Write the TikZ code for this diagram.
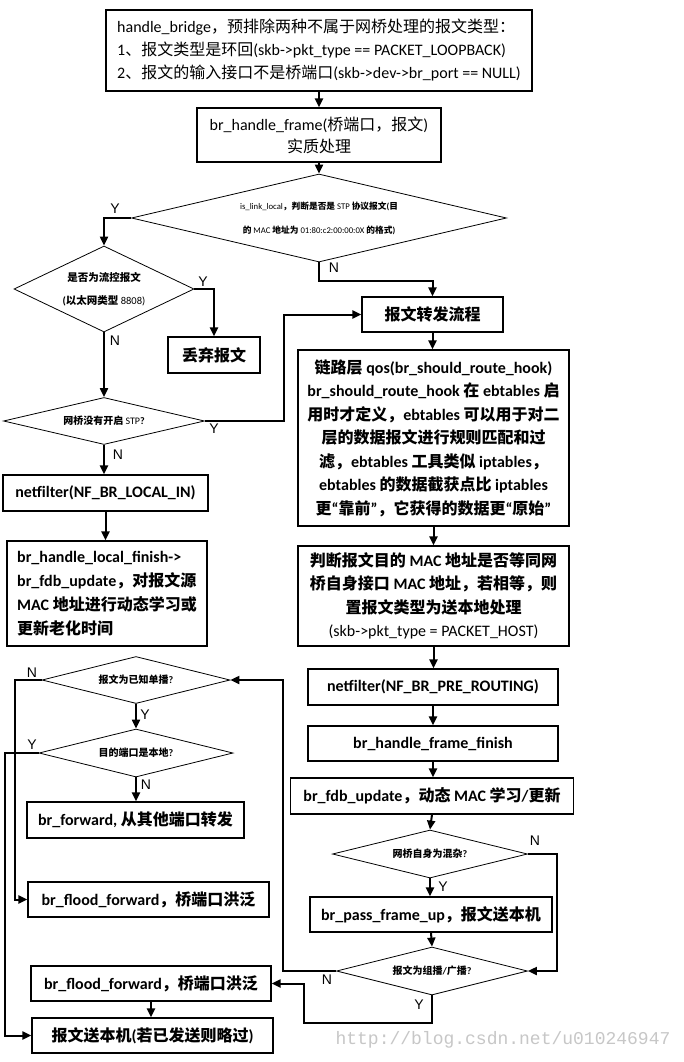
\documentclass[tikz,border=0pt]{standalone}
\usepackage{fontspec}
\setmainfont{Carlito}
\newfontfamily\cjkfont{Noto Sans CJK SC}
\newfontfamily\carlito{Carlito}
\newfontfamily\labfam{Liberation Sans}
\newfontfamily\wmfam{Liberation Mono}
\newcommand\latfont{\carlito}
\usetikzlibrary{shapes.geometric,arrows.meta}
\XeTeXinterchartokenstate=1
\makeatletter
\count@="4E00
\loop\ifnum\count@<"A000
  \XeTeXcharclass\count@=10
  \advance\count@\@ne
\repeat
\count@="3000
\loop\ifnum\count@<"3040
  \XeTeXcharclass\count@=10
  \advance\count@\@ne
\repeat
\count@="FF00
\loop\ifnum\count@<"FFF0
  \XeTeXcharclass\count@=10
  \advance\count@\@ne
\repeat
\makeatother
\XeTeXinterchartoks 0 10 = {\cjkfont}
\XeTeXinterchartoks 4095 10 = {\cjkfont}
\XeTeXinterchartoks 10 0 = {\latfont}
\XeTeXinterchartoks 10 4095 = {\latfont}
\XeTeXinterchartoks 4095 0 = {\latfont}
\tikzset{
  bx/.style={draw, line width=1.2pt, inner xsep=2pt, inner ysep=1pt, align=center,
    font=\fontsize{16}{23.5}\selectfont\bfseries},
  thinbx/.style={bx, font=\fontsize{16}{23}\selectfont},
  dia/.style={draw, diamond, aspect=4, line width=0.8pt, inner sep=0pt, align=center,
    font=\fontsize{10}{14}\selectfont\bfseries},
  arr/.style={line width=2pt, -{Triangle[length=9pt,width=8pt]}},
  lab/.style={inner sep=0pt, font=\let\latfont\labfam\labfam\fontsize{14}{14}\selectfont},
}
\begin{document}
\begin{tikzpicture}[x=1pt,y=-1pt]
\useasboundingbox (0,0) rectangle (683,1062);
\fill[white] (0,0) rectangle (683,1062);

% top
\node[thinbx, align=left, minimum width=426, minimum height=81] (hb) at (319,50.5)
  {handle\_bridge，预排除两种不属于网桥处理的报文类型：\\
   1、报文类型是环回(skb->pkt\_type == PACKET\_LOOPBACK)\\
   2、报文的输入接口不是桥端口(skb->dev->br\_port == NULL)};
\node[thinbx, minimum width=244, minimum height=54, font=\fontsize{16}{22}\selectfont] (hf) at (319,135)
  {br\_handle\_frame(桥端口，报文)\\实质处理};
\node[dia, minimum width=375, minimum height=88, font=\fontsize{8.7}{24}\selectfont\bfseries] (d1) at (319,218)
  {{\mdseries is\_link\_local}，判断是否是 {\mdseries STP} 协议报文(目\\的 {\mdseries MAC} 地址为 {\mdseries 01:80:c2:00:00:0X} 的格式)};

% left upper column
\node[dia, aspect=2.1, minimum width=180, minimum height=86, font=\fontsize{10.5}{23}\selectfont\bfseries] (d2) at (104,289)
  {是否为流控报文\\(以太网类型 {\mdseries 8808)}};
\node[bx, minimum width=92, minimum height=36] (drop) at (214,355) {丢弃报文};
\node[dia, minimum width=201, minimum height=47] (d3) at (104,421) {网桥没有开启 {\mdseries STP}?};
\node[bx, minimum width=205, minimum height=36] (nf1) at (105.5,493) {netfilter(NF\_BR\_LOCAL\_IN)};
\node[bx, align=left, minimum width=200, minimum height=105, font=\fontsize{16}{24}\selectfont\bfseries] (lf) at (107,593.5)
  {br\_handle\_local\_finish->\\br\_fdb\_update，对报文源\\MAC 地址进行动态学习或\\更新老化时间};

% right column
\node[bx, minimum width=141, minimum height=35] (fwd) at (432.5,314.5) {报文转发流程};
\node[bx, minimum width=271, minimum height=176] (big) at (433.5,438)
  {链路层 qos(br\_should\_route\_hook)\\
   br\_should\_route\_hook 在 ebtables 启\\
   用时才定义，ebtables 可以用于对二\\
   层的数据报文进行规则匹配和过\\
   滤，ebtables 工具类似 iptables，\\
   ebtables 的数据截获点比 iptables\\
   更“靠前”，它获得的数据更“原始”};
\node[bx, minimum width=271, minimum height=100] (judge) at (433.5,596)
  {判断报文目的 MAC 地址是否等同网\\
   桥自身接口 MAC 地址，若相等，则\\
   置报文类型为送本地处理\\
   {\mdseries (skb->pkt\_type = PACKET\_HOST)}};
\node[bx, minimum width=250, minimum height=36] (nf2) at (433,687) {netfilter(NF\_BR\_PRE\_ROUTING)};
\node[bx, minimum width=250, minimum height=35] (hff) at (433,743.5) {br\_handle\_frame\_finish};
\node[bx, minimum width=283, minimum height=36] (fdb) at (432,796) {br\_fdb\_update，动态 MAC 学习/更新};
\node[dia, minimum width=195, minimum height=48] (d4) at (430,854) {网桥自身为混杂?};
\node[bx, minimum width=242, minimum height=35] (pfu) at (431,914.5) {br\_pass\_frame\_up，报文送本机};
\node[dia, minimum width=191, minimum height=48] (d5) at (432,971) {报文为组播/广播?};

% left lower column
\node[dia, minimum width=188, minimum height=47] (d6) at (136,680) {报文为已知单播?};
\node[dia, minimum width=194, minimum height=48] (d7) at (136,753) {目的端口是本地?};
\node[bx, minimum width=217, minimum height=36] (brf) at (135.5,820) {br\_forward, 从其他端口转发};
\node[bx, minimum width=241, minimum height=35] (ff1) at (148.5,899.5) {br\_flood\_forward，桥端口洪泛};
\node[bx, minimum width=240, minimum height=35] (ff2) at (151,983.5) {br\_flood\_forward，桥端口洪泛};
\node[bx, minimum width=241, minimum height=35] (loc) at (152.5,1035.5) {报文送本机(若已发送则略过)};

% connectors
\draw[arr] (hb.south) -- (hb.south |- hf.north);
\draw[arr] (hf.south) -- (hf.south |- d1.north);
\draw[arr] (d1.west) -| (d2.north);
\draw[arr] (d1.south) -- ++(0,19) -| (fwd.north);
\draw[arr] (d2.east) -| (drop.north);
\draw[arr] (d2.south) -- (d2.south |- d3.north);
\draw[arr] (d3.east) -- ++(79,0) |- (fwd.west);
\draw[arr] (d3.south) -- (d3.south |- nf1.north);
\draw[arr] (nf1.south) -- (nf1.south |- lf.north);
\draw[arr] (fwd.south) -- (fwd.south |- big.north);
\draw[arr] (big.south) -- (big.south |- judge.north);
\draw[arr] (judge.south) -- (judge.south |- nf2.north);
\draw[arr] (nf2.south) -- (nf2.south |- hff.north);
\draw[arr] (hff.south) -- (hff.south |- fdb.north);
\draw[arr] (fdb.south) -- (d4.north);
\draw[arr] (d4.east) -- ++(29,0) |- (d5.east);
\draw[arr] (d4.south) -- (d4.south |- pfu.north);
\draw[arr] (pfu.south) -- (d5.north);
\draw[arr] (d5.west) -- ++(-53,0) |- (d6.east);
\draw[arr] (d5.south) -- ++(0,28) -- ++(-128,0) |- (ff2.east);
\draw[arr] (d6.west) -- ++(-27,0) |- (ff1.west);
\draw[arr] (d6.south) -- (d6.south |- d7.north);
\draw[arr] (d7.west) -- ++(-34,0) |- (loc.west);
\draw[arr] (d7.south) -- (d7.south |- brf.north);
\draw[arr] (ff2.south) -- (ff2.south |- loc.north);

% labels
\node[lab] (l1y) at (115,209) {Y};
\node[lab] (l1n) at (334,268) {N};
\node[lab] (l2y) at (203,282) {Y};
\node[lab] (l2n) at (115,341) {N};
\node[lab] (l3y) at (214,429) {Y};
\node[lab] (l3n) at (118,455) {N};
\node[lab] (l4n) at (535,841) {N};
\node[lab] (l4y) at (443,887) {Y};
\node[lab] (l5n) at (327,980) {N};
\node[lab] (l5y) at (419,1005) {Y};
\node[lab] (l6n) at (32,673) {N};
\node[lab] (l6y) at (145,715) {Y};
\node[lab] (l7y) at (32,745) {Y};
\node[lab] (l7n) at (146,785) {N};

% watermark
\node[inner sep=0pt, text=black!22, font=\let\latfont\wmfam\wmfam\fontsize{18}{18}\selectfont] (wm) at (503,1040) {http://blog.csdn.net/u010246947};
\end{tikzpicture}
\end{document}
